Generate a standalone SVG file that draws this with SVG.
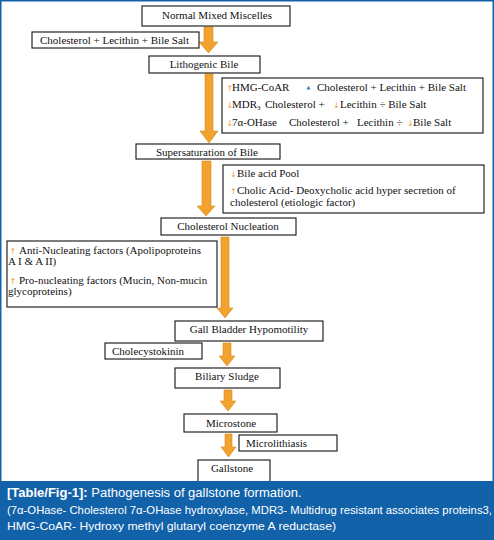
<svg xmlns="http://www.w3.org/2000/svg" width="494" height="540" viewBox="0 0 494 540">
<style>
.box{fill:#fff;stroke:#111;stroke-width:1.1}
.t{font-family:"Liberation Serif","Times New Roman",serif;font-size:11px;fill:#111}
.c{text-anchor:middle}
.ar{fill:#f2a22e;stroke:#d98a1c;stroke-width:0.6}
.sa{fill:#f09a2a;font-family:"DejaVu Sans",sans-serif;font-size:8px}
.cap{font-family:"Liberation Sans",Arial,sans-serif;fill:#fff}
</style>
<rect x="0" y="0" width="494" height="540" fill="#fff"/>

<g id="connectors">
<polygon class="ar" points="204,27 213,27 213,42 218,42 208.5,53 199,42 204,42"/>
<polygon class="ar" points="205,74 213,74 213,131 218,131 209,143 200,131 205,131"/>
<polygon class="ar" points="202,161 211,161 211,206 215,206 206,216 197,206 202,206"/>
<polygon class="ar" points="221,237 229,237 229,308 233,308 225,318 217,308 221,308"/>
<polygon class="ar" points="223,343 231,343 231,356 235,356 227,366 219,356 223,356"/>
<polygon class="ar" points="224,390 232,390 232,401 236,401 228,411 220,401 224,401"/>
<polygon class="ar" points="225,434 232,434 232,447 236,447 228.5,457 221,447 225,447"/>
</g>

<g id="normal-mixed-miscelles">
<rect class="box" x="142" y="6" width="148" height="20"/>
<text class="t c" x="217" y="19">Normal Mixed Miscelles</text>
</g>
<g id="chol-lecithin-bile">
<rect class="box" x="32" y="32" width="167" height="16"/>
<text class="t" x="40" y="43.5">Cholesterol + Lecithin + Bile Salt</text>
</g>
<g id="lithogenic-bile">
<rect class="box" x="149" y="56" width="111" height="17"/>
<text class="t c" x="204" y="68">Lithogenic Bile</text>
</g>
<g id="enzymes">
<rect class="box" x="222" y="78" width="261" height="55"/>
<text class="sa" x="226.5" y="91">↑</text>
<text class="t" x="232" y="91">HMG-CoAR</text>
<text x="306.5" y="89" style="font-family:'DejaVu Sans',sans-serif;font-size:5px;fill:#2f7fd0">▲</text>
<text class="t" x="317" y="91">Cholesterol + Lecithin + Bile Salt</text>
<text class="sa" x="226.5" y="108">↓</text>
<text class="t" x="232" y="108">MDR<tspan font-size="7" dy="2">3</tspan></text>
<text class="t" x="265" y="108">Cholesterol +</text>
<text class="sa" x="333" y="108">↓</text>
<text class="t" x="340" y="108">Lecithin ÷ Bile Salt</text>
<text class="sa" x="226.5" y="126">↓</text>
<text class="t" x="232" y="126">7α-OHase</text>
<text class="t" x="289" y="126">Cholesterol +</text>
<text class="t" x="357" y="126">Lecithin ÷</text>
<text class="sa" x="407" y="126">↓</text>
<text class="t" x="413" y="126">Bile Salt</text>
</g>
<g id="supersaturation">
<rect class="box" x="136" y="144" width="144" height="15"/>
<text class="t c" x="207" y="155.5">Supersaturation of Bile</text>
</g>
<g id="bile-acid-pool">
<rect class="box" x="223" y="165" width="261" height="48"/>
<text class="sa" x="230" y="177">↓</text>
<text class="t" x="237" y="177">Bile acid Pool</text>
<text class="sa" x="230" y="194">↑</text>
<text class="t" x="237" y="194">Cholic Acid- Deoxycholic acid hyper secretion of</text>
<text class="t" x="230" y="206">cholesterol (etiologic factor)</text>
</g>
<g id="cholesterol-nucleation">
<rect class="box" x="161" y="218" width="135" height="17"/>
<text class="t c" x="228" y="230">Cholesterol Nucleation</text>
</g>
<g id="nucleating-factors">
<rect class="box" x="7" y="241" width="210" height="66"/>
<text class="sa" x="9.5" y="254">↑</text>
<text class="t" x="19" y="254">Anti-Nucleating factors (Apolipoproteins</text>
<text class="t" x="8" y="265">A I &amp; A II)</text>
<text class="sa" x="9.5" y="284">↑</text>
<text class="t" x="19" y="284">Pro-nucleating factors (Mucin, Non-mucin</text>
<text class="t" x="8" y="295">glycoproteins)</text>
</g>
<g id="gall-bladder-hypomotility">
<rect class="box" x="175" y="321" width="148" height="20"/>
<text class="t c" x="249" y="333">Gall Bladder Hypomotility</text>
</g>
<g id="cholecystokinin">
<rect class="box" x="105" y="343" width="97" height="16"/>
<text class="t" x="112" y="355">Cholecystokinin</text>
</g>
<g id="biliary-sludge">
<rect class="box" x="175" y="368" width="105" height="20"/>
<text class="t c" x="227" y="380">Biliary Sludge</text>
</g>
<g id="microstone">
<rect class="box" x="184" y="414" width="93" height="18"/>
<text class="t c" x="231" y="427">Microstone</text>
</g>
<g id="microlithiasis">
<rect class="box" x="239" y="435" width="98" height="16"/>
<text class="t" x="246" y="447">Microlithiasis</text>
</g>
<g id="gallstone">
<rect class="box" x="198" y="460" width="72" height="25"/>
<text class="t c" x="232" y="472">Gallstone</text>
</g>

<g id="caption">
<rect x="0" y="481" width="494" height="59" fill="#1262a9"/>
<text class="cap" x="7" y="497" font-size="13"><tspan font-weight="bold">[Table/Fig-1]:</tspan> Pathogenesis of gallstone formation.</text>
<text class="cap" x="7" y="514" font-size="11" textLength="485" lengthAdjust="spacingAndGlyphs">(7α-OHase- Cholesterol 7α-OHase hydroxylase, MDR3- Multidrug resistant associates proteins3,</text>
<text class="cap" x="7" y="530" font-size="11" textLength="329" lengthAdjust="spacingAndGlyphs">HMG-CoAR- Hydroxy methyl glutaryl coenzyme A reductase)</text>
</g>
<rect x="0.75" y="0.75" width="492.5" height="538.5" fill="none" stroke="#1262a9" stroke-width="1.5"/>
</svg>
